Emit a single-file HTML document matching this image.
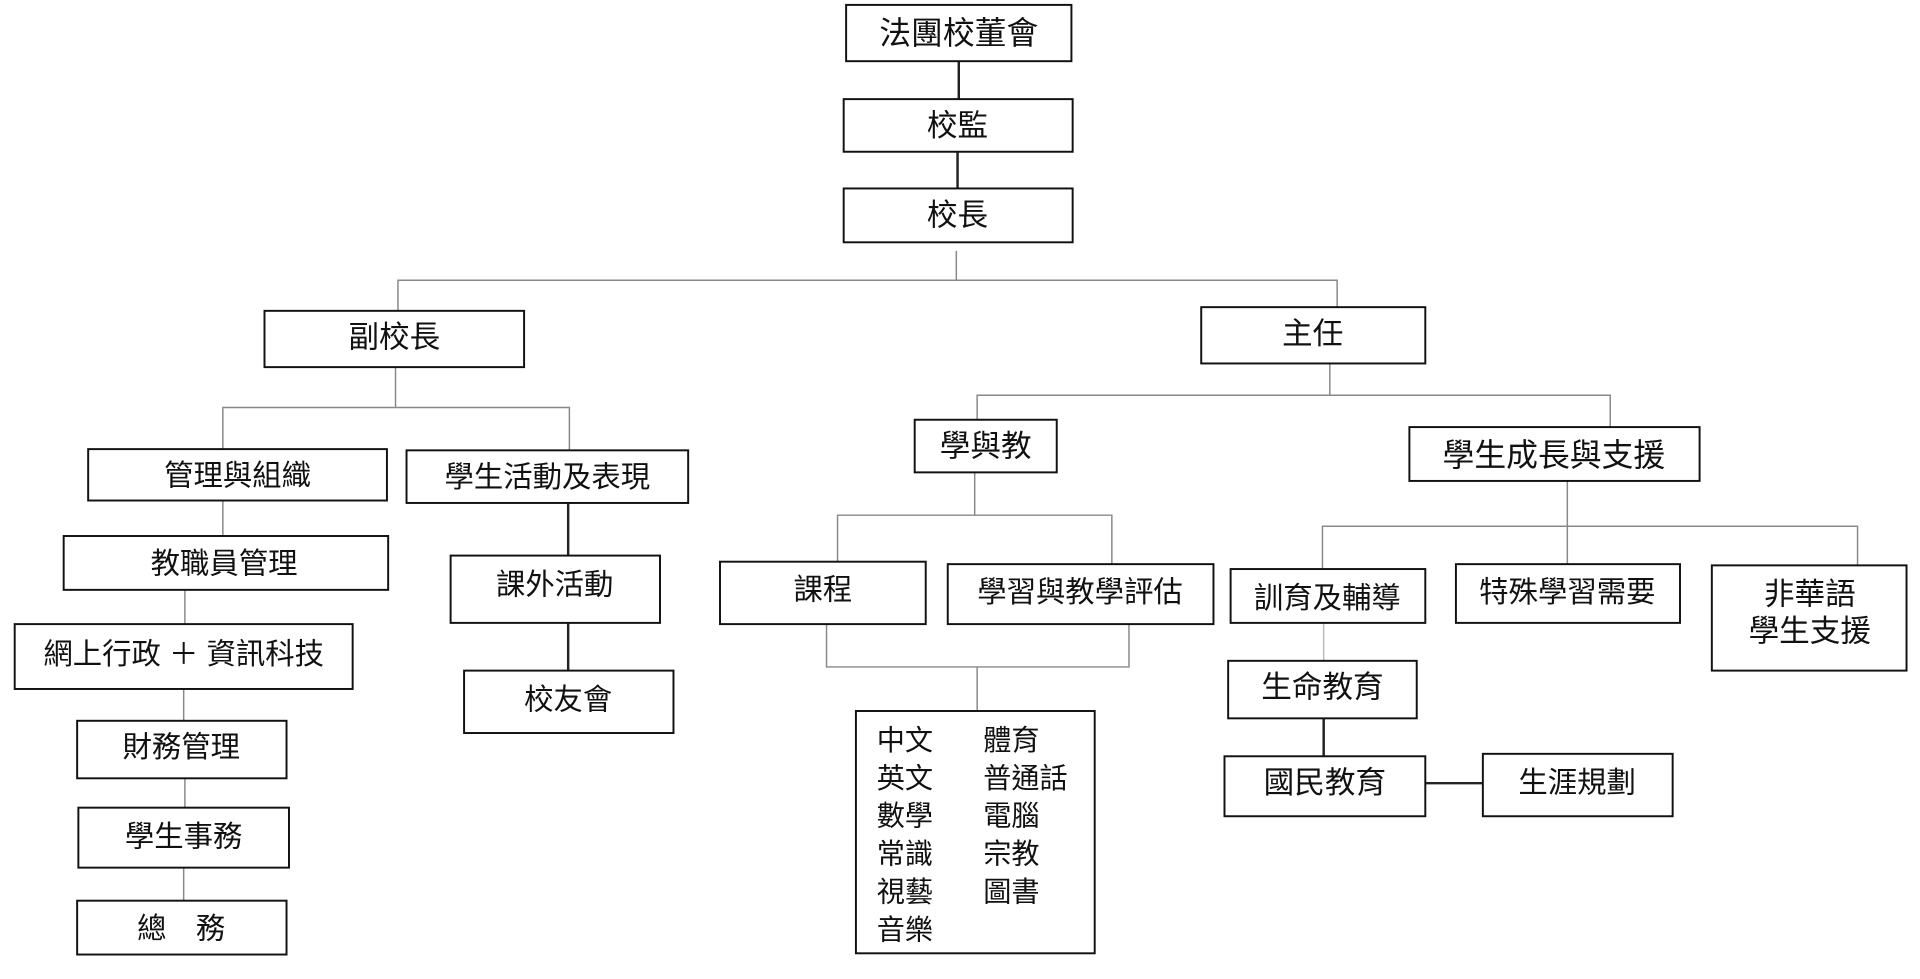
<!DOCTYPE html>
<html><head><meta charset="utf-8"><style>
html,body{margin:0;padding:0;background:#fff;}
svg{display:block;}
text{font-family:"Liberation Sans","Noto Sans CJK TC",sans-serif;fill:#111;text-anchor:middle;dominant-baseline:central;}
.b{fill:#fff;stroke:#111;stroke-width:1.6;}
.l{stroke:#888;stroke-width:1.2;fill:none;}
.d{stroke:#222;stroke-width:2;fill:none;}
</style></head><body>
<svg width="1920" height="979" viewBox="0 0 1568 800" preserveAspectRatio="none" xmlns="http://www.w3.org/2000/svg">
<!-- connectors -->
<line class="d" x1="783" y1="50" x2="783" y2="81"/>
<line class="d" x1="782" y1="124" x2="782" y2="154"/>
<path class="l" d="M781 205V229M325 254V229H1092V251"/>
<path class="l" d="M323 300V333M182 367V333H465V368"/>
<line class="l" x1="182" y1="409" x2="182" y2="438"/>
<line class="l" x1="151" y1="482" x2="151" y2="510"/>
<line class="l" x1="150" y1="563" x2="150" y2="589"/>
<line class="l" x1="151" y1="636" x2="151" y2="660"/>
<line class="l" x1="150" y1="709" x2="150" y2="736"/>
<line class="d" x1="464" y1="411" x2="464" y2="454"/>
<line class="d" x1="464" y1="509" x2="464" y2="548"/>
<path class="l" d="M1086 297V323M798 343V323H1315V349"/>
<path class="l" d="M796 386V421M684 459V421H908V461"/>
<path class="l" d="M675 510V545H922V510M798 545V581"/>
<path class="l" d="M1280 393V430M1080 465V430H1517V462M1280 430V461"/>
<line class="l" x1="1081" y1="509" x2="1081" y2="540" style="stroke:#bbb"/>
<line class="d" x1="1081" y1="587" x2="1081" y2="618"/>
<line class="d" x1="1164" y1="640" x2="1211" y2="640"/>
<!-- boxes -->
<rect class="b" x="691" y="4" width="184" height="46"/><text x="783" y="27" font-size="26">法團校董會</text>
<rect class="b" x="689" y="81" width="187" height="43"/><text x="782" y="103" font-size="25">校監</text>
<rect class="b" x="689" y="154" width="187" height="44"/><text x="782" y="176" font-size="25">校長</text>
<rect class="b" x="216" y="254" width="212" height="46"/><text x="322" y="276" font-size="25">副校長</text>
<rect class="b" x="981" y="251" width="183" height="46"/><text x="1072" y="273" font-size="25">主任</text>
<rect class="b" x="72" y="367" width="244" height="42"/><text x="194" y="389" font-size="24">管理與組織</text>
<rect class="b" x="332" y="368" width="230" height="43"/><text x="447" y="390" font-size="24">學生活動及表現</text>
<rect class="b" x="52" y="438" width="265" height="44"/><text x="183" y="461" font-size="24">教職員管理</text>
<rect class="b" x="12" y="510" width="276" height="53"/><text x="150" y="535" font-size="24">網上行政 ＋ 資訊科技</text>
<rect class="b" x="63" y="589" width="171" height="47"/><text x="148" y="611" font-size="24">財務管理</text>
<rect class="b" x="64" y="660" width="172" height="49"/><text x="150" y="684" font-size="24">學生事務</text>
<rect class="b" x="63" y="736" width="171" height="44"/><text x="148" y="759" font-size="24">總　務</text>
<rect class="b" x="368" y="454" width="171" height="55"/><text x="453" y="478" font-size="24">課外活動</text>
<rect class="b" x="379" y="548" width="171" height="51"/><text x="464" y="572" font-size="24">校友會</text>
<rect class="b" x="747" y="343" width="116" height="43"/><text x="805" y="365" font-size="25">學與教</text>
<rect class="b" x="1151" y="349" width="237" height="44"/><text x="1269" y="372" font-size="26">學生成長與支援</text>
<rect class="b" x="588" y="459" width="168" height="51"/><text x="672" y="482" font-size="24">課程</text>
<rect class="b" x="774" y="461" width="217" height="49"/><text x="882" y="484" font-size="24">學習與教學評估</text>
<rect class="b" x="699" y="581" width="195" height="198"/>
<g style="text-anchor:start">
<text x="716" y="605" font-size="23" style="text-anchor:start">中文</text>
<text x="716" y="636" font-size="23" style="text-anchor:start">英文</text>
<text x="716" y="667" font-size="23" style="text-anchor:start">數學</text>
<text x="716" y="698" font-size="23" style="text-anchor:start">常識</text>
<text x="716" y="729" font-size="23" style="text-anchor:start">視藝</text>
<text x="716" y="760" font-size="23" style="text-anchor:start">音樂</text>
<text x="803" y="605" font-size="23" style="text-anchor:start">體育</text>
<text x="803" y="636" font-size="23" style="text-anchor:start">普通話</text>
<text x="803" y="667" font-size="23" style="text-anchor:start">電腦</text>
<text x="803" y="698" font-size="23" style="text-anchor:start">宗教</text>
<text x="803" y="729" font-size="23" style="text-anchor:start">圖書</text>
</g>
<rect class="b" x="1005" y="465" width="159" height="44"/><text x="1084" y="489" font-size="24">訓育及輔導</text>
<rect class="b" x="1189" y="461" width="183" height="48"/><text x="1280" y="484" font-size="24">特殊學習需要</text>
<rect class="b" x="1398" y="462" width="159" height="86"/><text x="1478" y="486" font-size="25">非華語</text><text x="1478" y="516" font-size="25">學生支援</text>
<rect class="b" x="1003" y="540" width="154" height="47"/><text x="1080" y="562" font-size="25">生命教育</text>
<rect class="b" x="1000" y="618" width="164" height="49"/><text x="1082" y="640" font-size="25">國民教育</text>
<rect class="b" x="1211" y="616" width="155" height="51"/><text x="1288" y="640" font-size="24">生涯規劃</text>
</svg>
</body></html>
